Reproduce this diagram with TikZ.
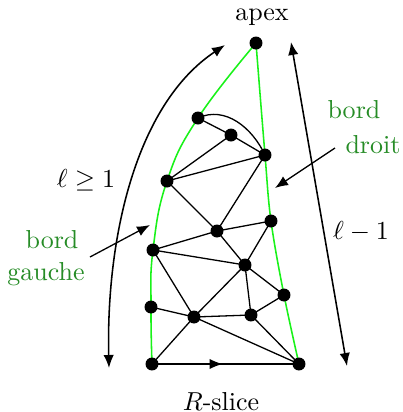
\documentclass[tikz,border=0pt]{standalone}
\usetikzlibrary{arrows.meta,decorations.markings}
\definecolor{txtgreen}{rgb}{0.15,0.55,0.15}
\definecolor{edgegreen}{rgb}{0.1,0.95,0.1}
\begin{document}
\begin{tikzpicture}[x=0.385pt,y=-0.385pt,
  vtx/.style={circle,fill=black,inner sep=0pt,minimum size=5pt},
  edge/.style={line width=0.5pt},
  gedge/.style={edgegreen,line width=0.6pt},
  longarrow/.style={line width=0.6pt,{Latex[length=5pt,width=4pt]}-{Latex[length=5pt,width=4pt]}},
  ptr/.style={line width=0.5pt,-{Latex[length=5pt,width=4pt]}},
  glabel/.style={txtgreen,inner sep=0pt},
  lbl/.style={inner sep=0pt}]
\useasboundingbox (0,0) rectangle (403,412);
% vertex positions
\coordinate (apex) at (256,43);
\coordinate (A) at (198,118);
\coordinate (B) at (231,135);
\coordinate (C) at (265,155);
\coordinate (D) at (167,181);
\coordinate (E) at (217,231);
\coordinate (F) at (271,221);
\coordinate (G) at (153,250);
\coordinate (H) at (245,265);
\coordinate (I) at (284,295);
\coordinate (J) at (151,307);
\coordinate (K) at (194,317);
\coordinate (L) at (251,315);
\coordinate (M) at (152,364);
\coordinate (N) at (299,364);
% green borders
\draw[gedge] plot[smooth,tension=0.75] coordinates {(apex) (A) (D) (G) (J) (M)};
\draw[gedge] plot[smooth,tension=0.6] coordinates {(apex) (C) (F) (I) (N)};
% inner edges
\draw[edge] (A) -- (B) -- (C);
\draw[edge] (A) to[out=25,in=115] (C);
\draw[edge] (D) -- (B);
\draw[edge] (D) -- (C);
\draw[edge] (D) -- (E);
\draw[edge] (E) -- (C);
\draw[edge] (E) -- (F);
\draw[edge] (E) -- (G);
\draw[edge] (E) -- (H);
\draw[edge] (G) -- (H);
\draw[edge] (G) -- (K);
\draw[edge] (H) -- (F);
\draw[edge] (H) -- (I);
\draw[edge] (H) -- (L);
\draw[edge] (H) -- (K);
\draw[edge] (J) -- (K);
\draw[edge] (K) -- (M);
\draw[edge] (K) -- (L);
\draw[edge] (K) -- (N);
\draw[edge] (L) -- (I);
\draw[edge] (L) -- (N);
\draw[edge,postaction={decorate},decoration={markings,mark=at position 0.48 with {\arrow{Latex[length=5pt,width=4pt]}}}] (M) -- (N);
% vertices
\foreach \v in {apex,A,B,C,D,E,F,G,H,I,J,K,L,M,N}
  \node[vtx] (v\v) at (\v) {};
% labels
\node[lbl] (apexlbl) at (262,17) {apex};
\node[lbl] (slicelbl) at (221,402) {$R$-slice};
\node[lbl] (lgeq) at (86,180) {$\ell \geq 1$};
\node[lbl] (lminus) at (361,232) {$\ell - 1$};
\node[glabel] (bd1) at (354,110) {bord};
\node[glabel] (bd2) at (373,145) {droit};
\node[glabel] (bg1) at (52,240) {bord};
\node[glabel] (bg2) at (46,274) {gauche};
% arrows
\coordinate (la1) at (109,368);
\coordinate (la2) at (225,45);
\draw[longarrow] (la1) .. controls (106,240) and (135,105) .. (la2);
\coordinate (ra1) at (291,42);
\coordinate (ra2) at (347,366);
\draw[longarrow] (ra1) -- (ra2);
\coordinate (bgs) at (90,257);
\coordinate (bgt) at (150,225);
\draw[ptr] (bgs) -- (bgt);
\coordinate (bds) at (335,148);
\coordinate (bdt) at (275,188);
\draw[ptr] (bds) -- (bdt);
\end{tikzpicture}
\end{document}
